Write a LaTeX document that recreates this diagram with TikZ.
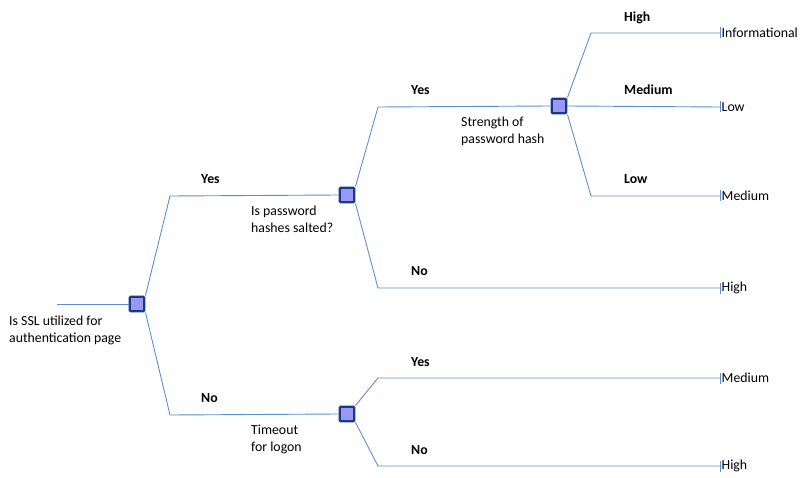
\documentclass[tikz,border=0pt]{standalone}
\usepackage{fontspec}
\setmainfont{Carlito}
\begin{document}
\begin{tikzpicture}[x=1pt,y=-1pt,
  link/.style={draw=linkblue,line width=0.9pt},
  decision/.style={draw=boxedge,fill=boxfill,line width=2.4pt,minimum size=14.5pt,inner sep=0pt,rounded corners=1pt},
  branchlbl/.style={font=\fontsize{13.8}{15}\selectfont\bfseries,anchor=base west,inner sep=0pt},
  question/.style={font=\fontsize{13.8}{16.5}\selectfont,align=left,anchor=north west,inner sep=0pt},
  outcome/.style={font=\fontsize{13.8}{15}\selectfont,anchor=west,inner sep=1.5pt},
  tick/.style={draw=linkblue,line width=0.9pt}]
\definecolor{linkblue}{HTML}{5B8FD0}
\definecolor{boxedge}{HTML}{1C3A84}
\definecolor{boxfill}{HTML}{9999F5}
\useasboundingbox (0,0) rectangle (802,478);

% decision boxes
\node[decision] (root) at (137,304) {};
\node[decision] (salt) at (347,195) {};
\node[decision] (hash) at (559,106) {};
\node[decision] (tout) at (347,414) {};

% incoming line
\coordinate (in) at (57,304);
\draw[link] (in) -- (root.west);

% outcome nodes with their end ticks
\node[outcome] (o1) at (720,33) {Informational};
\node[outcome] (o2) at (720,107) {Low};
\node[outcome] (o3) at (720,196) {Medium};
\node[outcome] (o4) at (720,288) {High};
\node[outcome] (o5) at (720,378) {Medium};
\node[outcome] (o6) at (720,466) {High};
\foreach \o in {o1,o2,o3,o4,o5,o6}
  \draw[tick] ([yshift=-5.5]\o.west) -- ([yshift=5.5]\o.west);

% first split
\draw[link] (root.north east) -- (170,196) -- (salt.west);
\draw[link] (root.south east) -- (170,415) -- (tout.west);

% password salt split
\draw[link] (salt.north east) -- (378,107) -- (hash.west);
\draw[link] (salt.south east) -- (378,288) -- (o4.west);

% hash strength split
\draw[link] (hash.north east) -- (591,33) -- (o1.west);
\draw[link] (hash.east) -- (o2.west);
\draw[link] (hash.south east) -- (591,196) -- (o3.west);

% timeout split
\draw[link] (tout.north east) -- (378,378) -- (o5.west);
\draw[link] (tout.south east) -- (378,466) -- (o6.west);

% branch labels
\node[branchlbl] (l1) at (201,184) {Yes};
\node[branchlbl] (l2) at (201,402) {No};
\node[branchlbl] (l3) at (411,95) {Yes};
\node[branchlbl] (l4) at (411,275) {No};
\node[branchlbl] (l5) at (624,22) {High};
\node[branchlbl] (l6) at (624,95) {Medium};
\node[branchlbl] (l7) at (624,184) {Low};
\node[branchlbl] (l8) at (411,366) {Yes};
\node[branchlbl] (l9) at (411,454) {No};

% questions
\node[question] (q1) at (9,316) {Is SSL utilized for\\authentication page};
\node[question] (q2) at (251,206) {Is password\\hashes salted?};
\node[question] (q3) at (461,117) {Strength of\\password hash};
\node[question] (q4) at (251,425) {Timeout\\for logon};
\end{tikzpicture}
\end{document}
